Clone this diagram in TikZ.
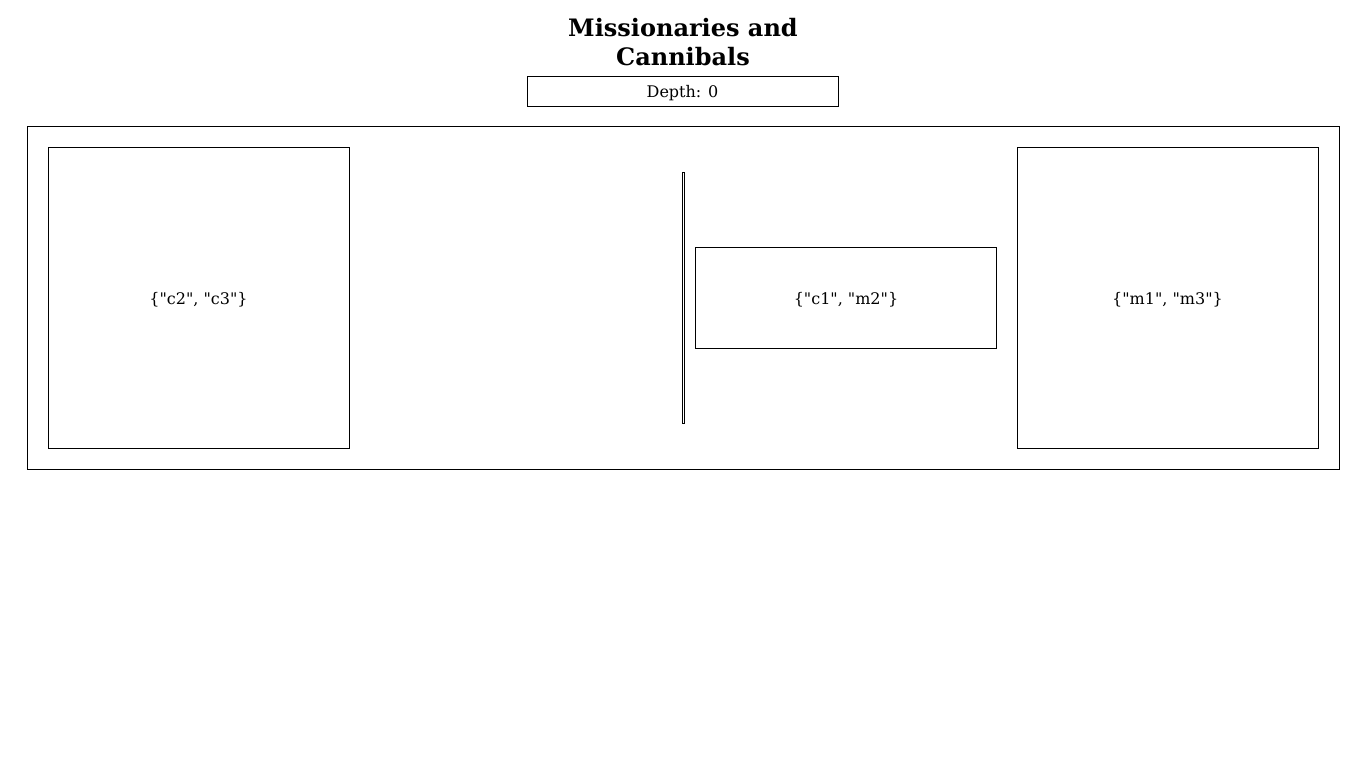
\documentclass[tikz,border=0pt]{standalone}
\usepackage{fontspec}
\setmainfont{DejaVu Serif}[Ligatures=TeXOff]
\usetikzlibrary{positioning}

\tikzset{
  bankbox/.style={draw, line width=1pt, minimum width=301pt, minimum height=301pt, inner sep=0pt, text depth=0pt, font=\fontsize{16}{19}\selectfont},
  boatbox/.style={draw, line width=1pt, minimum width=301pt, minimum height=101pt, inner sep=0pt, text depth=0pt, font=\fontsize{16}{19}\selectfont}
}

\begin{document}
\begin{tikzpicture}[x=1pt,y=-1pt]
\useasboundingbox (0,0) rectangle (1366,768);
\node[align=center, font=\fontsize{24}{29}\selectfont\bfseries] (title) at (683,42) {Missionaries and\\Cannibals};
\node[draw, line width=1pt, minimum width=311pt, minimum height=30pt, inner sep=0pt, text depth=0pt, font=\fontsize{16}{19}\selectfont] (depth) at (682.5,91.5) {Depth: 0};
% river frame
\node[draw, line width=1pt, minimum width=1312pt, minimum height=343pt, inner sep=0pt] (river) at (683.5,298) {};
\foreach \x/\name/\txt in {%
  198.5/leftbank/{\{"c2", "c3"\}},%
  1167.5/rightbank/{\{"m1", "m3"\}}%
}{
  \node[bankbox] (\name) at (\x,298) {\txt};
}
\node[boatbox] (boat) at (846,298) {\{"c1", "m2"\}};
\draw[line width=1pt] (682,172) rectangle (684,423);
\end{tikzpicture}
\end{document}
